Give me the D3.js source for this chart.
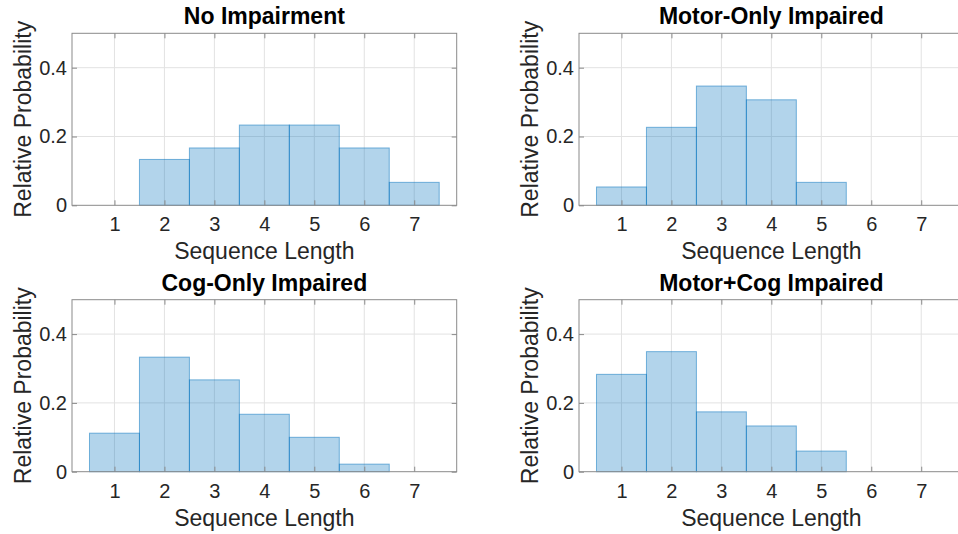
<!DOCTYPE html>
<html>
<head>
<meta charset="utf-8">
<script src="https://cdn.jsdelivr.net/npm/d3@7"></script>
<style>
  html, body { margin: 0; padding: 0; background: #fff; }
  svg { display: block; overflow: hidden; }
  text { font-family: "Liberation Sans", Arial, Helvetica, sans-serif; fill: #262626; }
</style>
</head>
<body>
<svg id="chart" width="958" height="534"></svg>
<script>
// Sequence-length histograms (relative probability) for four groups
const sequenceLengths = [1, 2, 3, 4, 5, 6, 7];
const panelTitles = ["No Impairment", "Motor-Only Impaired", "Cog-Only Impaired", "Motor+Cog Impaired"];
const noImpairment = [0, 0.1333, 0.1667, 0.2333, 0.2333, 0.1667, 0.0667];
const motorOnly    = [0.0533, 0.2267, 0.3467, 0.3067, 0.0667, 0, 0];
const cogOnly      = [0.112, 0.333, 0.267, 0.167, 0.100, 0.022, 0];
const motorCog     = [0.283, 0.349, 0.174, 0.133, 0.060, 0, 0];
const yTicks = [0, 0.2, 0.4];
const yTickLabels = ["0", "0.2", "0.4"];
const xLabel = "Sequence Length";
const yLabel = "Relative Probability";

const panelValues = [noImpairment, motorOnly, cogOnly, motorCog];

const svg = d3.select("#chart");

// Plot box geometry (left column / top row); other panels are offset
const box = { left: 72, top: 33.3, width: 384.7, height: 172 };
const colOffset = 507;
const rowOffset = 266.4;

const x = d3.scaleLinear().domain([0.15, 7.85]).range([0, box.width]);
const y = d3.scaleLinear().domain([0, 0.5]).range([box.height, 0]);

panelValues.forEach((values, i) => {
  const col = i % 2, row = Math.floor(i / 2);
  const g = svg.append("g")
    .attr("transform", `translate(${box.left + col * colOffset},${box.top + row * rowOffset})`);

  // grid
  const grid = g.append("g").attr("stroke", "#e2e2e2").attr("stroke-width", 1);
  grid.selectAll("line.gx").data(sequenceLengths).join("line")
    .attr("x1", d => x(d)).attr("x2", d => x(d))
    .attr("y1", 0).attr("y2", box.height);
  grid.selectAll("line.gy").data(yTicks.filter(t => t > 0)).join("line")
    .attr("x1", 0).attr("x2", box.width)
    .attr("y1", d => y(d)).attr("y2", d => y(d));

  // histogram bars (unit-width bins centred on each length)
  const bins = sequenceLengths.map((s, k) => ({ s, v: values[k] })).filter(d => d.v > 0);
  g.append("g").selectAll("rect").data(bins).join("rect")
    .attr("x", d => x(d.s - 0.5))
    .attr("width", d => x(d.s + 0.5) - x(d.s - 0.5))
    .attr("y", d => y(d.v))
    .attr("height", d => y(0) - y(d.v))
    .attr("fill", "#0072BD").attr("fill-opacity", 0.3)
    .attr("stroke", "#0072BD").attr("stroke-opacity", 0.5).attr("stroke-width", 1);

  // axes with inward ticks
  const xAxis = d3.axisBottom(x).tickValues(sequenceLengths).tickFormat(d3.format("d"))
    .tickSizeInner(-5).tickSizeOuter(0).tickPadding(12);
  const xTop = d3.axisTop(x).tickValues(sequenceLengths).tickFormat("")
    .tickSizeInner(-5).tickSizeOuter(0);
  const yAxis = d3.axisLeft(y).tickValues(yTicks).tickFormat((d, k) => yTickLabels[k])
    .tickSizeInner(-5).tickSizeOuter(0).tickPadding(5);
  const yRight = d3.axisRight(y).tickValues(yTicks).tickFormat("")
    .tickSizeInner(-5).tickSizeOuter(0);

  const styleAxis = sel => {
    sel.select(".domain").remove();
    sel.selectAll(".tick line").attr("stroke", "#8a8a8a");
    sel.selectAll(".tick text").attr("fill", "#262626")
      .style("font-size", "20px").style("font-family", "'Liberation Sans', Arial, Helvetica, sans-serif");
  };
  g.append("g").attr("transform", `translate(0,${box.height})`).call(xAxis).call(styleAxis);
  g.append("g").call(xTop).call(styleAxis);
  g.append("g").call(yAxis).call(styleAxis);
  g.append("g").attr("transform", `translate(${box.width},0)`).call(yRight).call(styleAxis);

  // box
  g.append("rect").attr("width", box.width).attr("height", box.height)
    .attr("fill", "none").attr("stroke", "#8a8a8a").attr("stroke-width", 1);

  // title
  g.append("text").attr("x", box.width / 2).attr("y", -9)
    .attr("text-anchor", "middle")
    .style("font-size", "23px").style("font-weight", "bold").style("fill", "#000")
    .text(panelTitles[i]);

  // axis labels
  g.append("text").attr("x", box.width / 2).attr("y", box.height + 54)
    .attr("text-anchor", "middle").style("font-size", "23px")
    .text(xLabel);
  g.append("text")
    .attr("transform", `translate(-41,${box.height / 2}) rotate(-90)`)
    .attr("text-anchor", "middle").style("font-size", "23px")
    .text(yLabel);
});
</script>
</body>
</html>
